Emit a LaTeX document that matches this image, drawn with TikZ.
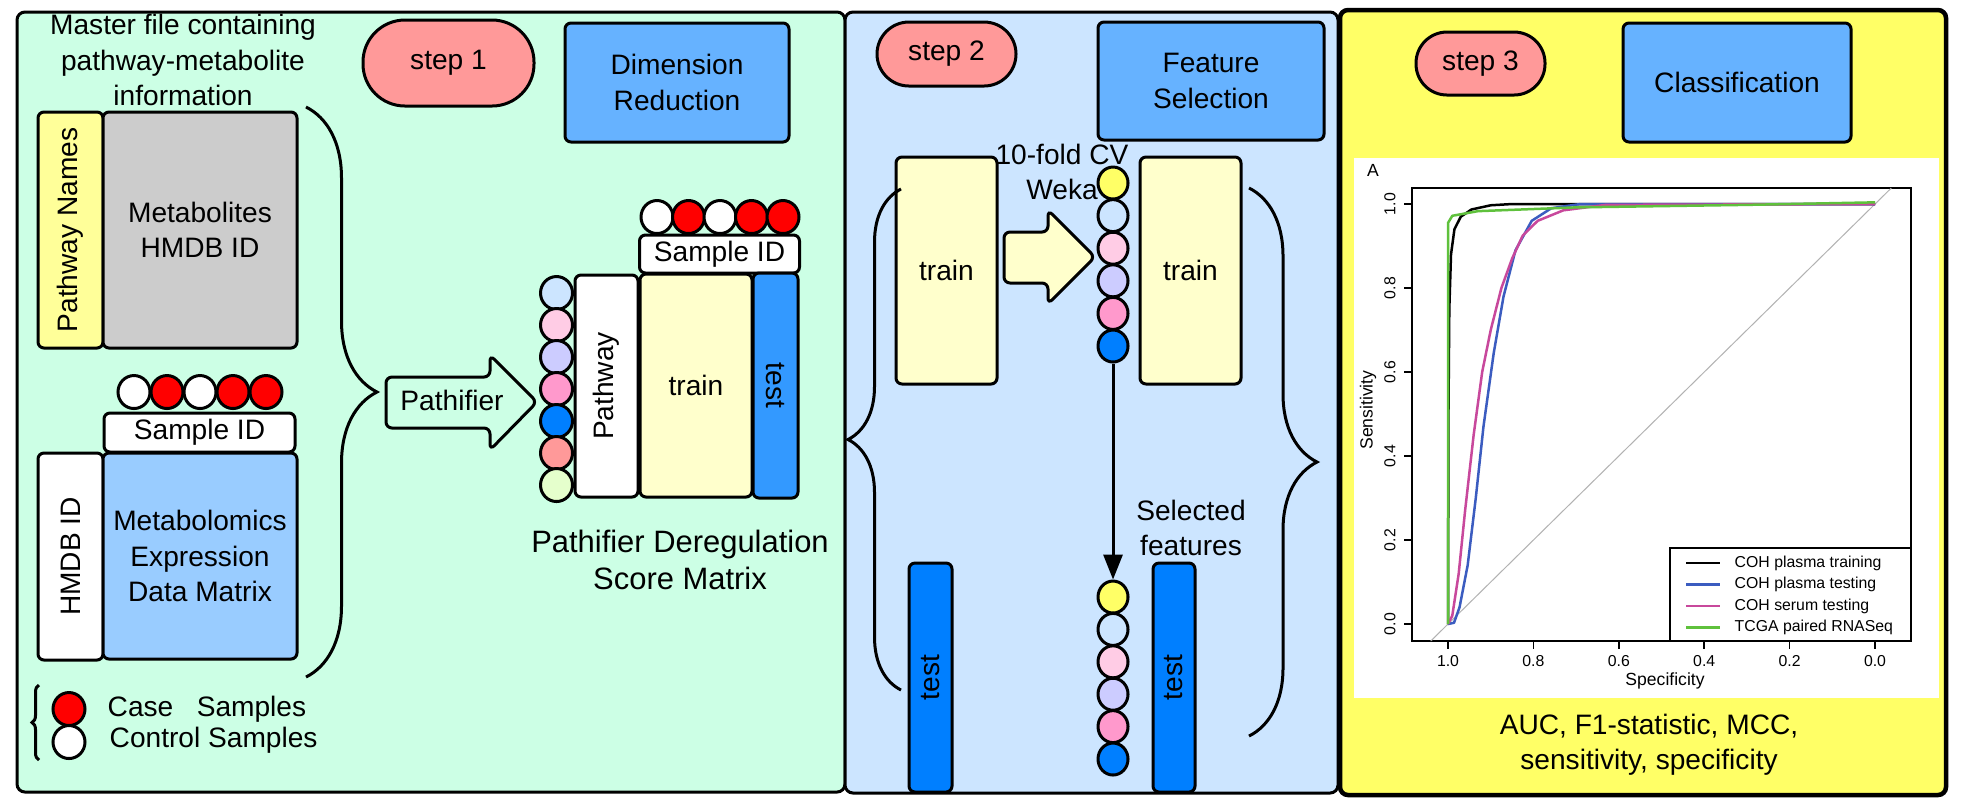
\documentclass[tikz,border=0pt]{standalone}
\usepackage{fontspec}
\setmainfont{Liberation Sans}
\usetikzlibrary{shapes.geometric, arrows.meta, decorations.pathreplacing}

\definecolor{mint}{HTML}{CCFFE5}
\definecolor{sky}{HTML}{CCE5FF}
\definecolor{lemon}{HTML}{FFFF66}
\definecolor{salmon}{HTML}{FF9999}
\definecolor{azure}{HTML}{66B2FF}
\definecolor{cream}{HTML}{FFFFCC}
\definecolor{paleyellow}{HTML}{FFFF99}
\definecolor{boxgray}{HTML}{CCCCCC}
\definecolor{lightazure}{HTML}{99CCFF}
\definecolor{midblue}{HTML}{3399FF}
\definecolor{deepblue}{HTML}{007FFF}
\definecolor{rose}{HTML}{FFCCE5}
\definecolor{lilac}{HTML}{CCCCFF}
\definecolor{dotpink}{HTML}{FF99CC}
\definecolor{palegreen}{HTML}{E5FFCC}
\definecolor{rocblue}{HTML}{3B5CC0}
\definecolor{rocmag}{HTML}{C8489C}
\definecolor{rocgreen}{HTML}{5FC13C}

\begin{document}
\begin{tikzpicture}[x=0.1mm, y=-0.1mm, font=\fontsize{8}{10}\selectfont,
  panel/.style={draw, line width=0.3mm, rounded corners=0.8mm},
  box/.style={draw, line width=0.3mm, rounded corners=0.6mm, inner sep=0pt, align=center},
  pill/.style={box, fill=salmon, rounded corners=#1},
  topic/.style={box, fill=azure},
  bead/.style={ellipse, draw, line width=0.3mm, inner sep=0pt, minimum width=3.2mm, minimum height=3.3mm},
  bigarrow/.style={draw, line width=0.3mm, rounded corners=0.6mm},
  curly/.style={decorate, decoration={brace, amplitude=#1}, line width=0.3mm},
  arrow/.style={-{Triangle[length=2.5mm, width=1.9mm]}, line width=0.3mm},
  roc/.style={line width=0.25mm, line join=round},
  plotfont/.style={font=\fontsize{4.5}{5.4}\selectfont},
]
\useasboundingbox (0,0) rectangle (1962,809);
\fill[white] (0,0) rectangle (1962,809);

% Panels
\draw[panel, fill=mint] (17,12) rectangle (845,792);
\draw[panel, fill=sky] (845,12) rectangle (1338,793);
\draw[panel, fill=lemon, line width=0.45mm] (1340,10) rectangle (1946,795);

% Step 1
\node[align=center] (mf) at (183,60) {Master file containing\\pathway-metabolite\\information};
\node[pill=4.2mm, minimum width=17.1mm, minimum height=8.6mm] (s1) at (448.5,63) {step 1};
\node[topic, minimum width=22.4mm, minimum height=11.9mm] (h1) at (677,82.5) {Dimension\\Reduction};
\node[box, fill=paleyellow, rotate=90, minimum width=23.6mm, minimum height=6.5mm] (pn) at (70.5,230) {Pathway Names};
\node[box, fill=boxgray, minimum width=19.4mm, minimum height=23.6mm] (mh) at (200,230) {Metabolites\\HMDB ID};
\foreach \c [count=\i from 0] in {white,red,white,red,red}
  \node[bead, fill=\c] (ra\i) at ({134+33*\i},392) {};
\node[box, fill=white, minimum width=19.1mm, minimum height=3.9mm] (sa) at (199.5,432.5) {Sample ID};
\node[box, fill=white, rotate=90, minimum width=20.7mm, minimum height=6.5mm] (hm) at (70.5,556.5) {HMDB ID};
\node[box, fill=lightazure, minimum width=19.4mm, minimum height=20.6mm] (mx) at (200,556) {Metabolomics\\Expression\\Data Matrix};
\draw[curly=7.1mm] (306,107) -- (306,677);

% Legend
\draw[curly=0.7mm] (39,760) -- (39,685);
\node[bead, fill=red] (lc) at (69,709) {};
\node[bead, fill=white] (lw) at (69,742) {};
\node[anchor=west, inner sep=0pt] (lct) at (107,709) {Case\ \ \ Samples};
\node[anchor=west, inner sep=0pt] (lwt) at (109,740) {Control Samples};

% Pathifier
\draw[bigarrow, fill=mint] (386,377) -- (490,377) -- (490,355) -- (537,402) -- (490,450) -- (490,428) -- (386,428) -- cycle;
\node (pf) at (452,400) {Pathifier};
\foreach \c [count=\i from 0] in {sky,rose,lilac,dotpink,deepblue,salmon,palegreen}
  \node[bead, fill=\c] (ca\i) at (556.5,{293+32*\i}) {};
\node[box, fill=white, rotate=90, minimum width=22.2mm, minimum height=6.3mm] (pw) at (606.5,386) {Pathway};
\node[box, fill=white, minimum width=16mm, minimum height=3.8mm] (sb) at (719.5,254) {Sample ID};
\foreach \c [count=\i from 0] in {white,red,white,red,red}
  \node[bead, fill=\c] (rb\i) at ({657+31.5*\i},217) {};
\node[box, fill=cream, minimum width=11.2mm, minimum height=22.3mm] (t1) at (696,385.5) {train};
\node[box, fill=midblue, rotate=-90, minimum width=22.5mm, minimum height=4.5mm] (e1) at (775.5,385.5) {test};
\node[align=center, font=\fontsize{8.8}{10.3}\selectfont] (pd) at (680,560) {Pathifier Deregulation\\Score Matrix};

% Step 2
\node[pill=3.2mm, minimum width=13.9mm, minimum height=6.4mm] (s2) at (946.5,54) {step 2};
\node[topic, minimum width=22.6mm, minimum height=11.8mm] (h2) at (1211,81) {Feature\\Selection};
\node[box, fill=cream, minimum width=10.1mm, minimum height=22.7mm] (t2) at (946.5,270.5) {train};
\draw[bigarrow, fill=cream] (1004,232) -- (1048,232) -- (1048,210) -- (1095,257) -- (1048,304) -- (1048,283) -- (1004,283) -- cycle;
\foreach \c [count=\i from 0] in {lemon,sky,rose,lilac,dotpink,deepblue} {
  \node[bead, fill=\c, minimum width=3mm, minimum height=3.2mm] (fa\i) at (1113,{183+32.6*\i}) {};
  \node[bead, fill=\c, minimum width=3mm, minimum height=3.2mm] (fb\i) at (1113,{597+32.4*\i}) {};
}
\node[align=center] (cv) at (1062,172) {10-fold CV\\Weka};
\node[box, fill=cream, minimum width=10.1mm, minimum height=22.7mm] (t3) at (1190.5,270.5) {train};
\node[align=center] (sf) at (1191,528) {Selected\\features};
\node[box, fill=deepblue, rotate=90, minimum width=22.9mm, minimum height=4.3mm] (e2) at (930.5,677.5) {test};
\node[box, fill=deepblue, rotate=90, minimum width=22.9mm, minimum height=4.2mm] (e3) at (1174,677.5) {test};
\draw[curly=5.3mm] (901,690) -- (901,189);
\draw[curly=6.8mm] (1249,188) -- (1249,736);

% Arrows
\draw[arrow] (fa5) -- (fb0);

% Step 3
\node[pill=3.1mm, minimum width=12.9mm, minimum height=6.3mm] (s3) at (1480.5,63.5) {step 3};
\node[topic, minimum width=22.8mm, minimum height=11.9mm] (h3) at (1737,82.5) {Classification};
\fill[white] (1354,158) rectangle (1939,698);
\draw[line width=0.15mm] (1412,188) rectangle (1911,641);
\foreach \v [count=\i] in {0.0,0.2,0.4,0.6,0.8,1.0} {
  \draw[line width=0.15mm] (1412,{624-420*\v}) -- (1404,{624-420*\v});
  \node[plotfont, rotate=90] (yl\i) at (1390,{624-420*\v}) {\v};
  \draw[line width=0.15mm] ({1875-427*\v},641) -- ({1875-427*\v},649);
  \node[plotfont] (xl\i) at ({1875-427*\v},661) {\v};
}
\node[font=\fontsize{5}{6}\selectfont, rotate=90] (ya) at (1368,410) {Sensitivity};
\node[font=\fontsize{5}{6}\selectfont] (xa) at (1665,681) {Specificity};
\node[font=\fontsize{5}{6}\selectfont] (pa) at (1373,170) {A};
\begin{scope}[shift={(1875,624)}, x=-42.7mm, y=42mm]
  \draw[gray!60, line width=0.1mm] (1.0405,-0.0405) -- (-0.038,1.038);
  \draw[roc, black] plot coordinates {(1,0) (0.999,0.5) (0.997,0.75) (0.993,0.88) (0.985,0.94) (0.97,0.97) (0.945,0.987) (0.9,0.997) (0.85,1) (0,1)};
  \draw[roc, rocblue] plot coordinates {(1,0) (0.986,0.003) (0.973,0.04) (0.954,0.14) (0.935,0.3) (0.917,0.47) (0.893,0.645) (0.87,0.78) (0.842,0.89) (0.804,0.96) (0.758,0.99) (0.69,1) (0,1)};
  \draw[roc, rocmag] plot coordinates {(1,0) (0.99,0.02) (0.975,0.12) (0.96,0.27) (0.94,0.45) (0.92,0.6) (0.9,0.7) (0.875,0.8) (0.85,0.87) (0.825,0.925) (0.79,0.96) (0.73,0.985) (0.63,0.998) (0,1)};
  \draw[roc, rocgreen] plot coordinates {(1,0) (1,0.955) (0.99,0.972) (0.93,0.983) (0.7,0.992) (0.3,0.998) (0,1.004)};
\end{scope}
\draw[line width=0.15mm, fill=white] (1670,548) rectangle (1911,641);
\foreach \c/\t [count=\i from 0] in {black/COH plasma training, rocblue/COH plasma testing, rocmag/COH serum testing, rocgreen/TCGA paired RNASeq} {
  \draw[roc, \c] (1686,{563+21.5*\i}) -- (1720,{563+21.5*\i});
  \node[plotfont, anchor=west, inner sep=0pt] (lg\i) at (1734,{563+21.5*\i}) {\t};
}
\node[align=center] (mt) at (1649,745) {AUC, F1-statistic, MCC,\\sensitivity, specificity};

\end{tikzpicture}
\end{document}
